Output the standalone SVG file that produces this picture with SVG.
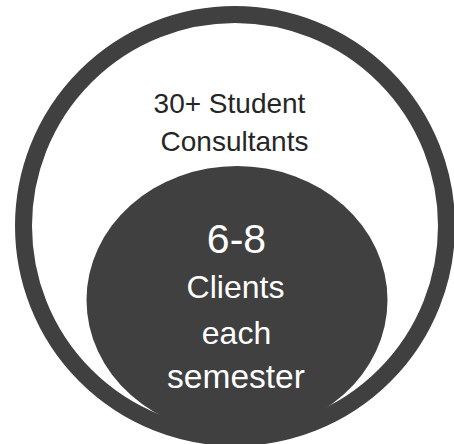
<svg xmlns="http://www.w3.org/2000/svg" width="454" height="444" viewBox="0 0 454 444">
  <style>
    .shape { fill: #404040; }
    .ring { fill: none; stroke: #404040; stroke-width: 17; }
    .outer-text { font-family: "Liberation Sans", Arial, sans-serif; font-size: 28px; fill: #262626; text-anchor: middle; }
    .inner-text { font-family: "Liberation Sans", Arial, sans-serif; font-size: 32px; fill: #ffffff; text-anchor: middle; }
  </style>
  <rect width="454" height="444" fill="#ffffff"/>
  <g id="outer-circle">
    <circle class="ring" cx="235" cy="226" r="211.5"/>
    <text class="outer-text" x="229.5" y="113">30+ Student</text>
    <text class="outer-text" x="234.5" y="151">Consultants</text>
  </g>
  <g id="inner-circle">
    <ellipse class="shape" cx="237" cy="300" rx="150.5" ry="134"/>
    <text class="inner-text" x="236.5" y="253" style="font-size:41px">6-8</text>
    <text class="inner-text" x="235.5" y="298">Clients</text>
    <text class="inner-text" x="236.5" y="344">each</text>
    <text class="inner-text" x="236" y="388" style="font-size:33.5px">semester</text>
  </g>
  <g id="connectors"/>
</svg>
